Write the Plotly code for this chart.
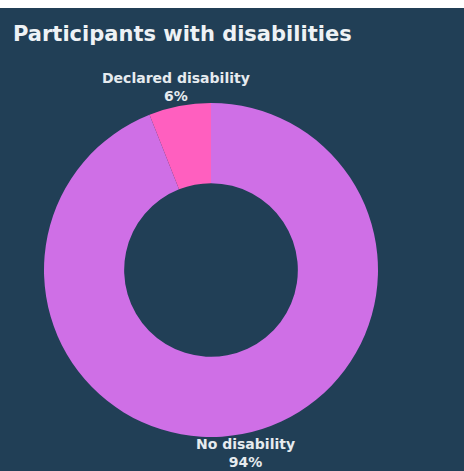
import math
import plotly.graph_objects as go

labels = ["No disability", "Declared disability"]
values = [94, 6]
colors = ["#cf6fe6", "#ff5fbf"]

W, H = 464, 471
CX, CY, R = 211, 270, 167      # pie centre / radius in pixels (from top-left)
LABEL_R = 186                  # label distance from centre in pixels

fig = go.Figure(go.Pie(
    labels=labels,
    values=values,
    hole=0.52,
    sort=False,
    direction="clockwise",
    rotation=0,
    marker=dict(colors=colors, line=dict(width=0)),
    textinfo="none",
    showlegend=False,
    hoverinfo="label+percent",
    domain=dict(x=[(CX - R) / W, (CX + R) / W], y=[(H - CY - R) / H, (H - CY + R) / H]),
))

# outside labels placed at each slice's mid-angle
annotations = []
total = sum(values)
cum = 0
for lab, v in zip(labels, values):
    mid = (cum + v / 2) / total * 2 * math.pi
    cum += v
    px = CX + LABEL_R * math.sin(mid)
    py = CY - LABEL_R * math.cos(mid)
    annotations.append(dict(
        text=f"<b>{lab}</b><br><b>{round(100 * v / total)}%</b>",
        xref="paper", yref="paper", x=px / W, y=1 - py / H,
        xanchor="center", yanchor="middle", showarrow=False,
        font=dict(family="DejaVu Sans", size=14, color="#e6ebef"),
    ))

annotations.append(dict(text="<b>Participants with disabilities</b>", xref="paper", yref="paper",
                        x=11 / W, y=1 - 20 / H, xanchor="left", yanchor="top", showarrow=False,
                        font=dict(family="DejaVu Sans", size=21, color="#eef2f5")))

fig.update_layout(
    width=W, height=H,
    margin=dict(l=0, r=0, t=0, b=0),
    paper_bgcolor="#213f56",
    plot_bgcolor="#213f56",
    shapes=[dict(type="rect", xref="paper", yref="paper", x0=0, x1=1,
                 y0=1 - 8 / H, y1=1, fillcolor="white", line=dict(width=0), layer="above")],
    annotations=annotations,
)

fig.write_html("out.html", config={"displayModeBar": False},
               post_script="document.body.style.margin='0';document.body.style.overflow='hidden';")
